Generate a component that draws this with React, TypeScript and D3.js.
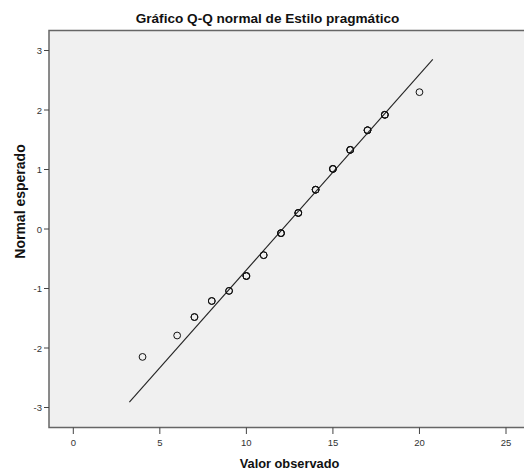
import React from 'react';
import * as d3 from 'd3';

const observed = [4, 6, 7, 8, 9, 10, 11, 12, 13, 14, 15, 16, 17, 18, 20];
const expected = [-2.15, -1.79, -1.48, -1.21, -1.04, -0.79, -0.44, -0.07, 0.27, 0.66, 1.01, 1.33, 1.66, 1.92, 2.3];
// how many cases sit on each point (darker rings)
const counts = [1, 1, 2, 2, 2, 3, 2, 3, 3, 3, 3, 3, 3, 3, 1];
// reference line endpoints
const lineX = [3.24, 20.77];
const lineY = [-2.91, 2.85];
const xTicks = [0, 5, 10, 15, 20, 25];
const yTicks = [3, 2, 1, 0, -1, -2, -3];

const W = 524;
const H = 472;

export default function App() {
  const x = d3.scaleLinear().domain([0, 25]).range([73.3, 506]);
  const y = d3.scaleLinear().domain([-3, 3]).range([407.5, 50.5]);
  const left = 49, top = 30.5, bottom = 427.5, right = 530;

  const line = d3.line<number>()
    .x((d) => x(d))
    .y((d, i) => y(lineY[i]));

  const font = '"Liberation Sans", Arial, sans-serif';

  return (
    <svg width={W} height={H} style={{position: 'absolute', left: 0, top: 0}} fontFamily={font}>
      <rect x={0} y={0} width={W} height={H} fill="#fff" />
      <text x={267.5} y={22.5} textAnchor="middle" fontSize={13.6} fontWeight="bold" fill="#111">
        Gráfico Q-Q normal de Estilo pragmático
      </text>
      <rect x={left} y={top} width={right - left} height={bottom - top} fill="#f0f0f0" stroke="#666" strokeWidth={1.5} />

      {yTicks.map((t) => (
        <g key={'y' + t}>
          <line x1={44} x2={left} y1={y(t)} y2={y(t)} stroke="#444" />
          <text x={42} y={y(t) + 3.5} textAnchor="end" fontSize={9.5} fill="#333">{t}</text>
        </g>
      ))}
      {xTicks.map((t) => (
        <g key={'x' + t}>
          <line x1={x(t)} x2={x(t)} y1={bottom} y2={434} stroke="#444" />
          <text x={x(t)} y={446} textAnchor="middle" fontSize={9.5} fill="#333">{t}</text>
        </g>
      ))}

      <path d={line(lineX) || ''} fill="none" stroke="#222" strokeWidth={1.1} />

      {observed.map((v, i) =>
        d3.range(counts[i]).map((k) => (
          <circle key={i + '-' + k} cx={x(v)} cy={y(expected[i])} r={3.4} fill="none" stroke="#111" strokeWidth={1} />
        ))
      )}

      <text transform={`translate(25,201.5) rotate(-90)`} textAnchor="middle" fontSize={14} fontWeight="bold" fill="#111">
        Normal esperado
      </text>
      <text x={289.5} y={468} textAnchor="middle" fontSize={12.8} fontWeight="bold" fill="#111">
        Valor observado
      </text>
    </svg>
  );
}
